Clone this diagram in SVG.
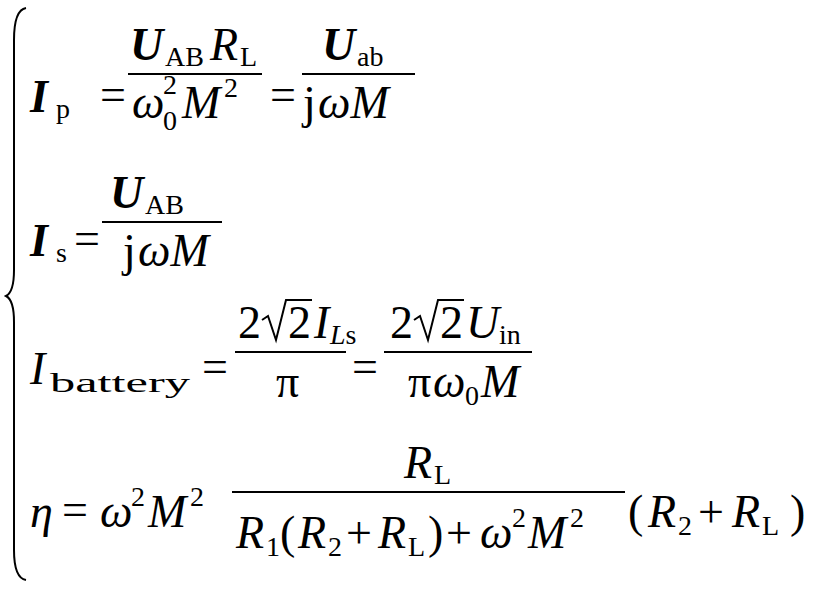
<svg xmlns="http://www.w3.org/2000/svg" width="825" height="591" viewBox="0 0 825 591">
<style>
text{font-family:"Liberation Serif","Times New Roman",serif;font-size:46px;fill:#000}
.i{font-style:italic}
.b{font-weight:bold;font-style:italic}
.s{font-size:28px}
.ln{stroke:#000;stroke-width:2}
</style>
<rect width="825" height="591" fill="#fff"/>
<path d="M26,8 Q14,10 14,40 L14,270 Q14,292 6,296 Q14,300 14,322 L14,550 Q14,578 26,580" fill="none" stroke="#000" stroke-width="2"/>
<g id="eq1">
<text x="30" y="112" class="b">I</text><text x="56" y="118" class="s">p</text>
<text x="100" y="110">=</text>
<text x="130" y="60" class="b">U</text><text x="165" y="66" class="s">AB</text><text x="210" y="60" class="i">R</text><text x="240" y="66" class="s">L</text>
<line class="ln" x1="128" y1="74" x2="262" y2="74"/>
<text x="132" y="118" class="i">ω</text><text x="163" y="94" class="s">2</text><text x="163" y="130" class="s">0</text><text x="182" y="118" class="i">M</text><text x="224" y="97" class="s">2</text>
<text x="270" y="110">=</text>
<text x="322" y="60" class="b">U</text><text x="357" y="66" class="s">ab</text>
<line class="ln" x1="302" y1="74" x2="415" y2="74"/>
<text x="303" y="118">j</text><text x="318" y="118" class="i">ωM</text>
</g>
<g id="eq2">
<text x="30" y="256" class="b">I</text><text x="56" y="262" class="s">s</text>
<text x="74" y="254">=</text>
<text x="110" y="208" class="b">U</text><text x="145" y="214" class="s">AB</text>
<line class="ln" x1="102" y1="222" x2="222" y2="222"/>
<text x="123" y="266">j</text><text x="138" y="266" class="i">ωM</text>
</g>
<g id="eq3">
<text x="30" y="384" class="i">I</text><text x="50" y="392" class="s" textLength="140" lengthAdjust="spacingAndGlyphs">battery</text>
<text x="202" y="382">=</text>
<text x="238" y="338">2</text><path d="M262,320 L268,316 L276,340 L286,300 L312,300" fill="none" stroke="#000" stroke-width="2"/><text x="288" y="338">2</text><text x="314" y="338" class="i">I</text><text x="330" y="344" class="s"><tspan class="i">L</tspan>s</text>
<line class="ln" x1="235" y1="352" x2="346" y2="352"/>
<text x="276" y="397">π</text>
<text x="352" y="382">=</text>
<text x="390" y="338">2</text><path d="M414,320 L420,316 L428,340 L438,300 L464,300" fill="none" stroke="#000" stroke-width="2"/><text x="440" y="338">2</text><text x="466" y="338" class="i">U</text><text x="499" y="344" class="s">in</text>
<line class="ln" x1="384" y1="352" x2="532" y2="352"/>
<text x="408" y="397">π</text><text x="433" y="397" class="i">ω</text><text x="465" y="405" class="s">0</text><text x="481" y="397" class="i">M</text>
</g>
<g id="eq4">
<text x="30" y="527" class="i">η</text>
<text x="62" y="525">=</text>
<text x="100" y="527" class="i">ω</text><text x="131" y="506" class="s">2</text><text x="148" y="527" class="i">M</text><text x="190" y="506" class="s">2</text>
<text x="404" y="478" class="i">R</text><text x="434" y="484" class="s">L</text>
<line class="ln" x1="232" y1="492" x2="625" y2="492"/>
<text x="236" y="548" class="i">R</text><text x="266" y="556" class="s">1</text><text x="280" y="548">(</text><text x="298" y="548" class="i">R</text><text x="328" y="556" class="s">2</text><text x="346" y="548">+</text><text x="378" y="548" class="i">R</text><text x="408" y="556" class="s">L</text><text x="428" y="548">)</text><text x="446" y="548">+</text><text x="480" y="548" class="i">ω</text><text x="512" y="527" class="s">2</text><text x="528" y="548" class="i">M</text><text x="570" y="527" class="s">2</text>
<text x="628" y="527">(</text><text x="648" y="527" class="i">R</text><text x="678" y="535" class="s">2</text><text x="698" y="527">+</text><text x="732" y="527" class="i">R</text><text x="762" y="535" class="s">L</text><text x="790" y="527">)</text>
</g>
</svg>
